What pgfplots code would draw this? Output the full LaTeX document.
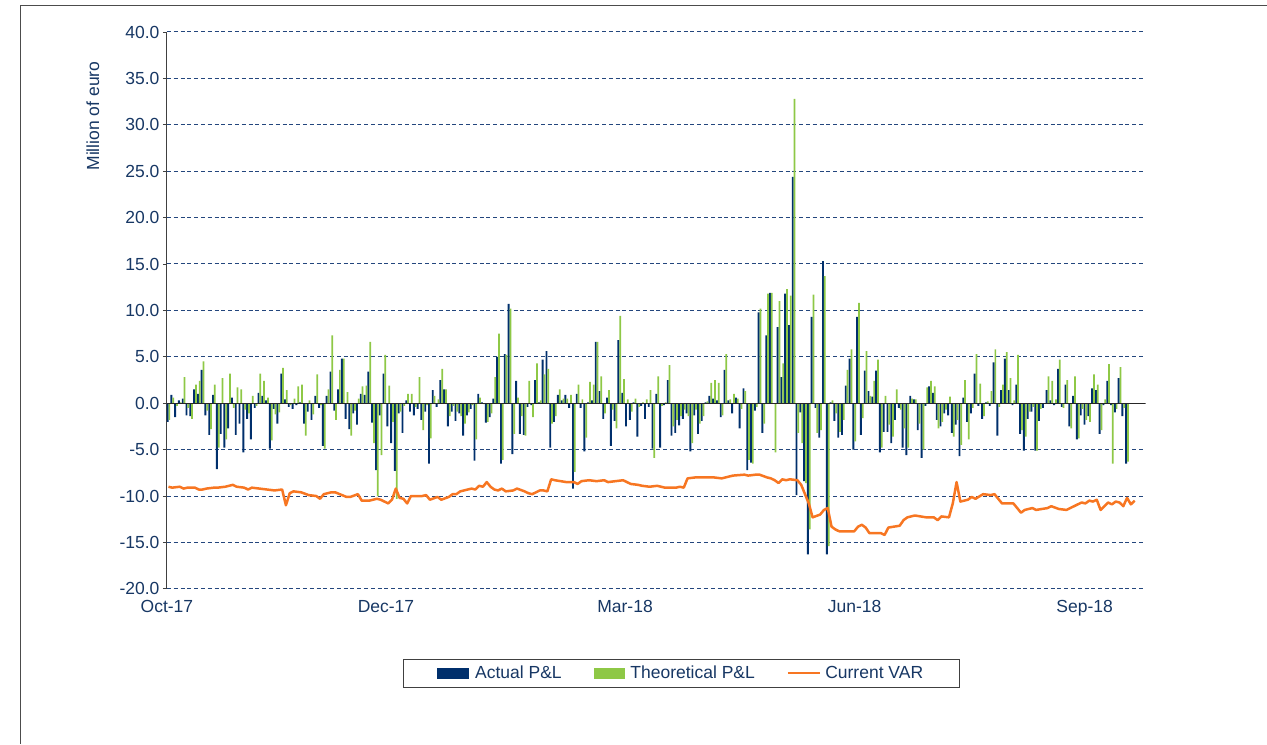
\documentclass[border=0pt]{standalone}
\usepackage{fontspec}
\setmainfont{Liberation Sans}
\usepackage{pgfplots}
\usepackage{pgfplotstable}
\pgfplotsset{compat=1.18}
\definecolor{navybar}{RGB}{0,47,108}
\definecolor{greenbar}{RGB}{142,200,70}
\definecolor{varorange}{RGB}{247,118,34}
\definecolor{gridnavy}{RGB}{35,70,125}
\definecolor{txt}{RGB}{23,55,100}
\newcommand{\chfont}{\fontsize{17.5}{20}\selectfont}

\pgfplotstableread{
day act theo
0 -2.0 -1.8
1 0.9 0.6
2 -1.5 -0.3
3 0.3 0.1
4 0.5 2.8
5 -1.3 -0.5
6 -1.4 -1.7
7 1.5 2.0
8 1.0 2.4
9 3.6 4.5
10 -1.3 -0.8
11 -3.4 -2.8
12 0.9 2.0
13 -7.1 -4.8
14 -3.3 2.7
15 -4.8 -3.9
16 -2.7 3.2
17 0.6 -0.5
18 -3.4 1.7
19 -2.2 1.5
20 -5.3 -0.7
21 -1.7 -1.1
22 -3.9 0.8
23 -0.5 -0.3
24 1.1 3.2
25 0.8 2.4
26 0.3 0.6
27 -4.9 -4.0
28 -0.6 -1.2
29 -2.2 -1.0
30 3.2 3.8
31 0.4 1.4
32 -0.4 -0.2
33 -0.6 0.5
34 -0.2 1.8
35 0.1 2.0
36 -2.2 -3.5
37 -0.9 0.3
38 -1.8 -1.2
39 0.8 3.1
40 -0.5 -0.2
41 -4.6 -4.9
42 0.8 1.5
43 3.4 7.3
44 -0.8 -1.8
45 1.5 3.6
46 4.8 4.8
47 -1.7 1.2
48 -2.8 -3.5
49 -1.1 -0.8
50 -2.3 0.5
51 1.0 1.8
52 0.9 1.9
53 3.4 6.6
54 -2.1 -4.3
55 -7.2 -10.0
56 -1.3 -5.6
57 3.2 5.2
58 -2.5 1.9
59 -4.3 -2.0
60 -7.3 -10.3
61 -1.1 -0.9
62 -3.2 -0.3
63 0.3 1.0
64 -0.9 1.0
65 -1.3 -0.4
66 -0.6 2.8
67 -1.8 -2.9
68 -0.9 -0.2
69 -6.5 -3.8
70 1.4 0.8
71 -0.4 0.4
72 2.5 3.7
73 1.5 1.5
74 -2.5 -1.4
75 -0.9 -0.3
76 -1.9 -0.9
77 -1.1 -1.4
78 -3.5 -2.2
79 -1.3 -1.0
80 -0.6 -0.2
81 -6.2 -3.9
82 1.0 0.6
83 0.1 -0.1
84 -2.1 -2.0
85 -1.5 -1.1
86 0.5 2.8
87 5.0 7.5
88 -6.5 -6.1
89 5.3 5.2
90 10.7 10.2
91 -5.5 -3.3
92 2.4 0.6
93 -3.3 -1.4
94 -3.4 -3.5
95 -0.4 2.4
96 -0.2 -1.5
97 2.5 4.3
98 0.1 0.3
99 4.7 3.1
100 5.6 3.7
101 -4.8 -2.2
102 -2.0 -1.4
103 0.9 1.5
104 0.3 0.5
105 0.9 0.5
106 -0.5 0.9
107 -9.2 -7.4
108 1.0 2.0
109 -0.5 0.4
110 -5.2 -3.7
111 0.1 2.3
112 0.3 2.0
113 6.6 6.6
114 1.3 2.9
115 -1.7 -1.1
116 0.6 1.4
117 -4.6 -0.7
118 -1.9 -2.7
119 6.8 9.4
120 1.1 2.6
121 -2.5 0.4
122 -1.8 -0.9
123 0.1 0.5
124 -3.6 -0.4
125 -0.3 0.1
126 -1.7 0.4
127 -0.4 1.4
128 -4.9 -5.9
129 1.0 2.9
130 -4.8 -0.3
131 -0.2 0.1
132 2.5 4.1
133 -3.5 -2.5
134 -3.2 -1.8
135 -2.4 -1.4
136 -1.7 -0.7
137 -1.1 -1.4
138 -5.2 -4.3
139 -1.3 -0.7
140 -3.3 -2.2
141 -1.9 -1.4
142 0.1 0.2
143 0.8 2.2
144 0.5 2.5
145 0.3 2.2
146 -1.5 -1.3
147 3.6 5.3
148 0.3 0.4
149 -1.1 1.0
150 0.6 0.5
151 -2.7 -0.6
152 1.6 1.3
153 -7.2 -6.1
154 -6.4 -6.5
155 -0.8 -0.4
156 9.8 10.2
157 -3.2 -2.2
158 7.3 11.8
159 11.9 11.9
160 0.0 -5.3
161 8.2 11.0
162 2.8 4.3
163 11.8 12.3
164 8.4 11.6
165 24.4 32.8
166 -9.9 -3.2
167 -1.0 -4.3
168 -8.4 -8.6
169 -16.3 -13.6
170 9.3 11.7
171 -0.5 -3.2
172 -3.7 -2.9
173 15.3 13.7
174 -16.3 -15.4
175 0.1 0.3
176 -1.9 -1.1
177 -3.7 -3.1
178 -3.4 -1.8
179 1.9 3.6
180 4.8 5.8
181 -5.0 -4.1
182 9.3 10.8
183 -3.4 -1.6
184 3.5 5.6
185 1.3 0.8
186 0.7 2.4
187 3.5 4.7
188 -5.3 -4.8
189 -3.1 0.8
190 -3.1 -2.3
191 -4.3 -3.6
192 -1.8 1.5
193 -0.5 -0.7
194 -4.8 -2.7
195 -5.6 -4.8
196 0.8 0.5
197 0.4 0.4
198 -2.9 -2.2
199 -5.9 -5.0
200 -0.3 1.7
201 1.8 2.4
202 1.1 1.8
203 -1.8 -2.7
204 -2.5 -2.0
205 -1.1 -0.7
206 -1.3 0.7
207 -3.2 -3.6
208 -2.3 -1.8
209 -5.7 -4.5
210 0.6 2.5
211 -2.0 -3.9
212 -1.1 -0.5
213 3.2 5.3
214 -0.3 2.1
215 -1.7 -1.4
216 0.1 0.2
217 -0.3 1.3
218 4.4 5.8
219 -3.5 -0.4
220 1.4 2.0
221 4.8 5.5
222 1.4 2.7
223 -0.2 0.3
224 2.0 5.2
225 -3.3 -2.9
226 -5.1 -3.6
227 -1.7 -0.9
228 -0.9 -0.4
229 -5.1 -5.1
230 -1.9 -0.6
231 -0.5 0.0
232 1.4 2.9
233 0.3 2.4
234 -0.2 0.4
235 3.7 4.7
236 -0.4 -0.5
237 2.0 2.5
238 -2.5 -2.7
239 0.8 2.9
240 -3.9 -3.8
241 -1.3 -0.6
242 -2.3 -1.8
243 -1.4 -2.0
244 1.6 3.1
245 1.4 2.0
246 -3.3 -2.9
247 -0.2 0.4
248 2.4 4.2
249 -0.2 -6.5
250 -1.0 -0.6
251 2.7 3.9
252 -1.4 -0.5
253 -6.5 -6.3
}\pnl

\pgfplotstableread{
day var
0 -9.0
1 -9.1
3 -9.0
4 -9.2
5 -9.1
7 -9.1
8 -9.3
9 -9.3
10 -9.2
12 -9.1
13 -9.1
15 -9.0
17 -8.8
18 -9.0
20 -9.1
21 -9.3
22 -9.1
24 -9.2
26 -9.3
28 -9.4
30 -9.3
31 -11.0
32 -9.7
33 -9.5
35 -9.6
37 -9.9
39 -10.0
40 -10.3
41 -9.8
42 -9.7
43 -9.6
44 -9.6
47 -10.1
48 -10.1
50 -9.8
51 -10.5
53 -10.5
55 -10.3
56 -10.4
58 -10.8
59 -10.4
60 -9.2
61 -10.2
62 -10.3
63 -10.8
64 -10.0
67 -10.0
68 -9.9
69 -10.4
71 -10.1
72 -10.4
74 -10.1
75 -9.8
76 -9.8
77 -9.5
79 -9.3
80 -9.2
81 -9.3
82 -8.9
83 -9.0
84 -8.5
85 -9.0
86 -9.3
87 -9.4
88 -9.2
89 -9.5
91 -9.4
92 -9.2
94 -9.5
95 -9.7
96 -9.8
98 -9.4
99 -9.4
100 -9.5
101 -8.2
102 -8.3
105 -8.5
107 -8.5
108 -8.7
109 -8.4
111 -8.3
113 -8.4
115 -8.3
116 -8.5
118 -8.4
120 -8.3
121 -8.5
122 -8.7
124 -8.8
125 -8.9
127 -9.0
129 -8.9
131 -9.1
134 -9.1
135 -9.0
136 -9.1
137 -8.1
139 -8.0
142 -8.0
144 -8.0
146 -8.1
148 -7.9
149 -7.8
152 -7.7
153 -7.8
155 -7.7
156 -7.7
158 -8.0
159 -8.1
160 -8.3
161 -8.6
162 -8.2
163 -8.3
164 -8.2
166 -8.3
167 -8.8
168 -9.8
169 -10.8
170 -12.3
172 -12.0
173 -11.5
174 -11.3
175 -13.3
176 -13.6
177 -13.8
181 -13.8
182 -13.3
183 -13.1
184 -13.4
185 -14.0
188 -14.0
189 -14.2
190 -13.4
193 -13.2
194 -12.6
195 -12.3
197 -12.1
200 -12.3
202 -12.3
203 -12.6
204 -12.2
206 -12.3
207 -10.8
208 -8.5
209 -10.6
211 -10.4
212 -10.1
213 -10.3
215 -9.8
217 -9.9
218 -9.8
220 -10.8
223 -10.8
225 -11.8
226 -11.5
228 -11.3
229 -11.5
232 -11.3
233 -11.1
235 -11.4
237 -11.5
239 -11.1
241 -10.7
242 -10.8
243 -10.5
244 -10.6
245 -10.4
246 -11.5
247 -11.1
248 -10.7
249 -10.9
250 -10.6
251 -10.7
252 -11.1
253 -10.2
254 -10.9
255 -10.5
}\var

\begin{document}
\begin{tikzpicture}[x=1pt,y=1pt]
\path (0,0) rectangle (1267,744);
\draw[black!70, line width=0.8pt] (20,0) -- (20,739) -- (1267,739);
\begin{axis}[
  at={(167pt,155pt)}, anchor=south west,
  scale only axis, width=979pt, height=557pt,
  xmin=-0.4, xmax=257.9, ymin=-20, ymax=40,
  ytick distance=5,
  /pgf/number format/assume math mode=true,
  yticklabel style={/pgf/number format/.cd, fixed, fixed zerofill, precision=1},
  axis lines*=left,
  x axis line style={draw=none},
  y axis line style={black!75, line width=1pt},
  tick align=outside,
  major tick length=4pt,
  ytick style={black!75, line width=0.8pt},
  xtick style={draw=none},
  xtick={-0.4,57.4,120.5,181.1,241.8},
  xticklabels={Oct-17,Dec-17,Mar-18,Jun-18,Sep-18},
  tick label style={font=\chfont, text=txt},
  xticklabel style={yshift=-4pt},
  ymajorgrids,
  major grid style={gridnavy, dash pattern=on 4pt off 2.8pt, line width=1pt},
  ylabel={Million of euro},
  every axis y label/.style={at={(rel axis cs:-0.0756,0.849)}, rotate=90, anchor=center, font=\chfont, text=txt},
  legend style={at={(0.5255,-0.1517)}, anchor=center, legend columns=3,
    draw=black!75, line width=0.8pt, font=\chfont, text=txt,
    inner xsep=34pt, inner ysep=6pt,
    nodes={inner xsep=2pt, inner ysep=1pt},
    /tikz/every even column/.append style={column sep=30pt}},
]
\addplot[ybar, bar width=0.5, bar shift=-0.24, fill=navybar, draw=none, forget plot] table[x=day,y=act]{\pnl};
\addplot[ybar, bar width=0.46, bar shift=0.24, fill=greenbar, draw=none, forget plot] table[x=day,y=theo]{\pnl};
\addplot[varorange, line width=2.5pt, line join=round, forget plot] table[x=day,y=var]{\var};
\draw[black!85, line width=1pt] (axis cs:-0.4,0) -- (axis cs:257.9,0);
\addlegendimage{legend image code/.code={\fill[navybar] (0pt,-5pt) rectangle (31pt,5pt); \path (35pt,0pt);}}
\addlegendentry{Actual P\&L}
\addlegendimage{legend image code/.code={\fill[greenbar] (0pt,-5pt) rectangle (30pt,5pt); \path (34pt,0pt);}}
\addlegendentry{Theoretical P\&L}
\addlegendimage{legend image code/.code={\draw[varorange, line width=2pt] (0pt,0pt) -- (32pt,0pt); \path (35pt,0pt);}}
\addlegendentry{Current VAR}
\end{axis}
\end{tikzpicture}
\end{document}
